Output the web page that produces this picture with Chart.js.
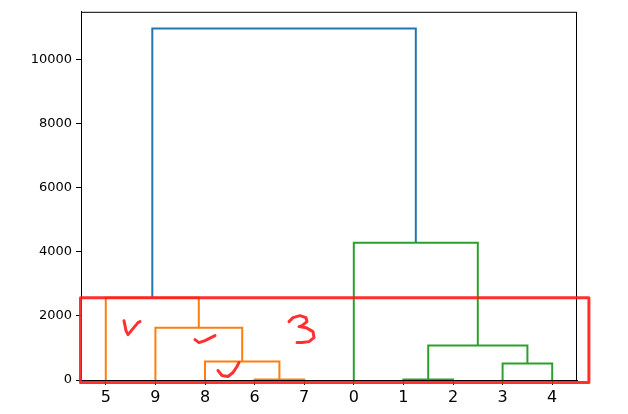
<!DOCTYPE html>
<html>
<head>
<meta charset="utf-8">
<script src="https://cdn.jsdelivr.net/npm/chart.js@4/dist/chart.umd.min.js"></script>
<style>
  html, body { margin: 0; padding: 0; background: #fff; }
  #wrap { width: 628px; height: 414px; position: relative; }
</style>
</head>
<body>
<div id="wrap"><canvas id="chartcanvas"></canvas></div>
<script>
// leaf order along the x axis
var leafLabels = ["5", "9", "8", "6", "7", "0", "1", "2", "3", "4"];
var leafPos = [5, 15, 25, 35, 45, 55, 65, 75, 85, 95];

// link coordinates (scipy style icoord / dcoord)
var icoord = [
    [35, 35, 45, 45],
    [25, 25, 40, 40],
    [15, 15, 32.5, 32.5],
    [5, 5, 23.75, 23.75],
    [65, 65, 75, 75],
    [85, 85, 95, 95],
    [70, 70, 90, 90],
    [55, 55, 80, 80],
    [14.375, 14.375, 67.5, 67.5]
];
var dcoord = [
    [0, 15, 15, 0],
    [0, 576, 576, 15],
    [0, 1635, 1635, 576],
    [0, 2570, 2570, 1635],
    [0, 15, 15, 0],
    [0, 514, 514, 0],
    [15, 1075, 1075, 514],
    [0, 4283, 4283, 1075],
    [2570, 10980, 10980, 4283]
];
var linkColors = ["#ff7f0e", "#ff7f0e", "#ff7f0e", "#ff7f0e",
    "#2ca02c", "#2ca02c", "#2ca02c", "#2ca02c", "#1f77b4"];

var yTicks = [0, 2000, 4000, 6000, 8000, 10000];

// red hand-drawn marks, in data units
var markBox = [[-0.1, 2570], [102.4, 2570], [102.4, -75], [-0.1, -75]];
var markStrokes = [
    [[8.67, 1853], [9.07, 1542], [9.48, 1417], [10.48, 1604], [11.49, 1791], [11.9, 1822]],
    [[22.98, 1261], [23.79, 1168], [25.0, 1230], [27.02, 1386]],
    [[27.62, 296], [28.43, 140], [29.64, 109], [30.65, 234], [31.45, 421], [31.85, 545]],
    [[41.94, 1822], [42.74, 1947], [44.15, 2009], [45.36, 1947], [45.56, 1822], [44.56, 1698],
     [43.95, 1667], [45.36, 1635], [46.77, 1511], [46.98, 1324], [45.97, 1199], [44.56, 1168], [43.55, 1168]]
];

var datasets = icoord.map(function (xs, i) {
    return {
        data: xs.map(function (x, j) { return {x: x, y: dcoord[i][j]}; }),
        showLine: true,
        borderColor: linkColors[i],
        borderWidth: 2,
        pointRadius: 0,
        fill: false,
        tension: 0,
        clip: 6
    };
});

// axes frame (box) plus red marks
var overlay = {
    id: "overlay",
    afterDatasetsDraw: function (chart) {
        var ctx = chart.ctx, a = chart.chartArea;
        var xs = chart.scales.x, ys = chart.scales.y;
        ctx.save();
        ctx.strokeStyle = "#000";
        ctx.lineWidth = 1;
        ctx.strokeRect(a.left + 0.5, a.top + 0.5, a.right - a.left - 1, a.bottom - a.top);

        ctx.strokeStyle = "rgba(255,25,25,0.9)";
        ctx.lineJoin = "round";
        ctx.lineCap = "round";
        ctx.lineWidth = 3;
        ctx.beginPath();
        markBox.forEach(function (p, i) {
            var px = xs.getPixelForValue(p[0]), py = ys.getPixelForValue(p[1]);
            if (i === 0) ctx.moveTo(px, py); else ctx.lineTo(px, py);
        });
        ctx.closePath();
        ctx.stroke();

        ctx.lineWidth = 3;
        markStrokes.forEach(function (s) {
            ctx.beginPath();
            s.forEach(function (p, i) {
                var px = xs.getPixelForValue(p[0]), py = ys.getPixelForValue(p[1]);
                if (i === 0) ctx.moveTo(px, py); else ctx.lineTo(px, py);
            });
            ctx.stroke();
        });
        ctx.restore();
    }
};

var ctx = document.getElementById("chartcanvas");
new Chart(ctx, {
    type: "scatter",
    data: {datasets: datasets},
    options: {
        responsive: true,
        maintainAspectRatio: false,
        animation: false,
        events: [],
        layout: {padding: {top: 10, right: 51, left: 0, bottom: 0}},
        plugins: {legend: {display: false}, tooltip: {enabled: false}},
        scales: {
            x: {
                type: "linear",
                min: 0,
                max: 100,
                afterBuildTicks: function (axis) {
                    axis.ticks = leafPos.map(function (v) { return {value: v}; });
                },
                afterFit: function (axis) { axis.height = 34; },
                ticks: {
                    autoSkip: false,
                    maxRotation: 0,
                    padding: 3,
                    color: "#000",
                    font: {family: "DejaVu Sans", size: 16},
                    callback: function (v) {
                        var i = leafPos.indexOf(v);
                        return i >= 0 ? leafLabels[i] : "";
                    }
                },
                grid: {drawOnChartArea: false, drawTicks: true, tickLength: 5, color: "#000"},
                border: {display: true, color: "#000"}
            },
            y: {
                type: "linear",
                min: 0,
                max: 11500,
                afterBuildTicks: function (axis) {
                    axis.ticks = yTicks.map(function (v) { return {value: v}; });
                },
                afterFit: function (axis) { axis.width = 81; },
                ticks: {
                    padding: 4,
                    color: "#000",
                    font: {family: "DejaVu Sans", size: 13},
                    callback: function (v) { return String(v); }
                },
                grid: {drawOnChartArea: false, drawTicks: true, tickLength: 5, color: "#000"},
                border: {display: true, color: "#000"}
            }
        }
    },
    plugins: [overlay]
});
</script>
</body>
</html>
